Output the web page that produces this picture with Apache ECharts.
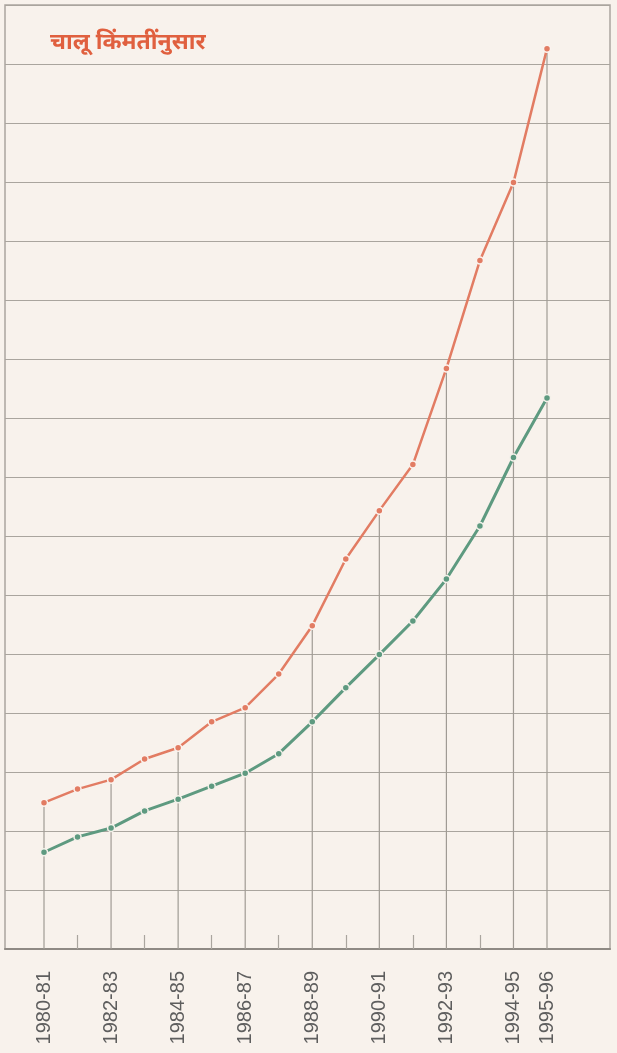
<!DOCTYPE html>
<html>
<head>
<meta charset="utf-8">
<script src="https://cdn.jsdelivr.net/npm/echarts@6/dist/echarts.min.js"></script>
<style>
  html, body { margin: 0; padding: 0; background: #f8f2ec; }
  #chart { width: 617px; height: 1053px; }
</style>
</head>
<body>
<div id="chart"></div>
<script>
// Per capita income at current prices (Rs.), 1980-81 to 1995-96
const years = [
  '1980-81', '1981-82', '1982-83', '1983-84', '1984-85', '1985-86',
  '1986-87', '1987-88', '1988-89', '1989-90', '1990-91', '1991-92',
  '1992-93', '1993-94', '1994-95', '1995-96'
];
// Years that carry a label and a drop line on the axis
const labelledYears = [
  '1980-81', '1982-83', '1984-85', '1986-87', '1988-89',
  '1990-91', '1992-93', '1994-95', '1995-96'
];
const upperSeries = [
  2480, 2710, 2870, 3220, 3410, 3850, 4090, 4660,
  5480, 6610, 7430, 8210, 9840, 11670, 12990, 15260
];
const lowerSeries = [
  1640, 1900, 2050, 2340, 2540, 2760, 2980, 3310,
  3850, 4430, 4990, 5560, 6270, 7170, 8330, 9340
];
const yTicks = { min: 0, max: 16000, step: 1000 };
const title = 'चालू किंमतींनुसार';

const gridColor = '#aaa59e';
const upperColor = '#e27c63';
const lowerColor = '#5e9a80';
const bg = '#f8f2ec';

const isLabelled = (i) => labelledYears.indexOf(years[i]) !== -1;

// Vertical drop lines from the upper series down to the axis
const dropLines = years.map((y, i) => (isLabelled(i) ? upperSeries[i] : null));

const chart = echarts.init(document.getElementById('chart'), null, { renderer: 'canvas' });

chart.setOption({
  backgroundColor: bg,
  animation: false,
  title: {
    text: title,
    left: 45,
    top: 28,
    textStyle: {
      color: '#e0603f',
      fontSize: 23,
      fontWeight: 'bold',
      fontFamily: '"Noto Sans Devanagari", "Noto Sans", sans-serif'
    }
  },
  grid: [
    // outer frame with horizontal rules
    { left: 5, right: 7, top: 5, bottom: 104, show: true, borderColor: gridColor, borderWidth: 1.5, backgroundColor: 'transparent' },
    // plotting area, first year to last year
    { left: 44, right: 70, top: 5, bottom: 104 }
  ],
  xAxis: [
    {
      gridIndex: 0, type: 'value', min: 0, max: 1,
      axisLine: { show: true, onZero: false, lineStyle: { color: '#8f8a84', width: 2 } },
      axisTick: { show: false }, axisLabel: { show: false }, splitLine: { show: false }
    },
    {
      gridIndex: 1, type: 'category', data: years, boundaryGap: false,
      axisLine: { show: false },
      axisTick: {
        show: true, inside: true, length: 14,
        interval: (i) => !isLabelled(i),
        lineStyle: { color: gridColor, width: 1.2 }
      },
      axisLabel: {
        show: true, rotate: 90, margin: 22,
        interval: (i) => isLabelled(i),
        color: '#5e5e5e', fontSize: 20,
        fontFamily: '"Liberation Sans", Arial, sans-serif'
      },
      splitLine: { show: false }
    }
  ],
  yAxis: [
    {
      gridIndex: 0, type: 'value', min: yTicks.min, max: yTicks.max, interval: yTicks.step,
      axisLine: { show: false }, axisTick: { show: false }, axisLabel: { show: false },
      splitLine: { show: true, lineStyle: { color: gridColor, width: 1.2 } }
    },
    {
      gridIndex: 1, type: 'value', min: yTicks.min, max: yTicks.max, interval: yTicks.step,
      axisLine: { show: false }, axisTick: { show: false }, axisLabel: { show: false },
      splitLine: { show: false }
    }
  ],
  series: [
    {
      type: 'bar', xAxisIndex: 1, yAxisIndex: 1,
      data: dropLines, barWidth: 1.2,
      itemStyle: { color: '#a09b94' },
      silent: true, z: 1
    },
    {
      type: 'line', xAxisIndex: 1, yAxisIndex: 1,
      data: upperSeries,
      symbol: 'circle', symbolSize: 7,
      lineStyle: { color: upperColor, width: 2.5 },
      itemStyle: { color: upperColor, borderColor: '#fbf3ee', borderWidth: 1.5 },
      z: 3
    },
    {
      type: 'line', xAxisIndex: 1, yAxisIndex: 1,
      data: lowerSeries,
      symbol: 'circle', symbolSize: 7,
      lineStyle: { color: lowerColor, width: 3 },
      itemStyle: { color: lowerColor, borderColor: '#f4f1ea', borderWidth: 1.5 },
      z: 3
    }
  ]
});
</script>
</body>
</html>
